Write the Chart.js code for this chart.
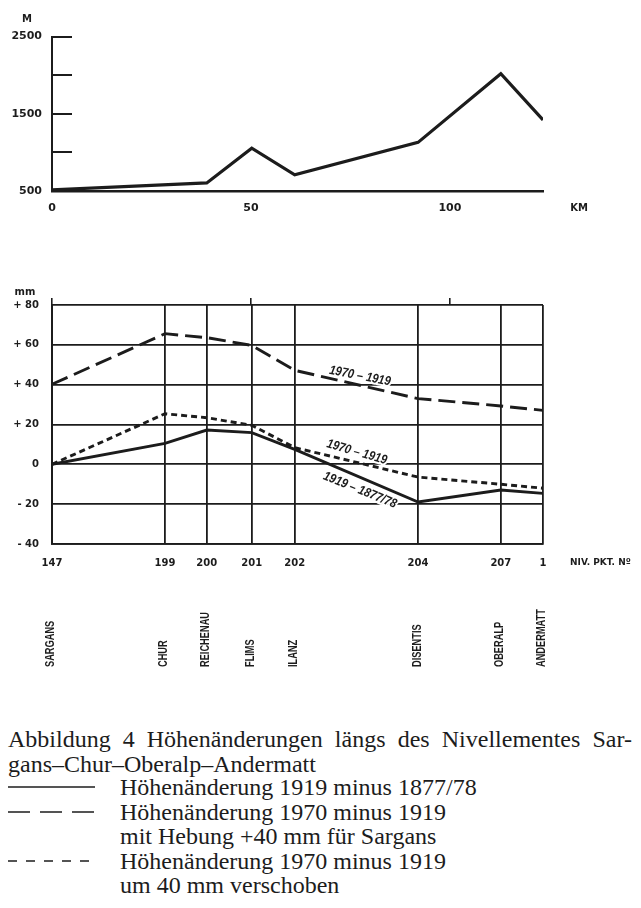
<!DOCTYPE html>
<html lang="de">
<head>
<meta charset="utf-8">
<script src="https://cdn.jsdelivr.net/npm/chart.js@4.4.1/dist/chart.umd.min.js"></script>
<style>
  html, body { margin: 0; padding: 0; background: #fff; }
  body { width: 641px; height: 908px; position: relative; overflow: hidden; }
  canvas { position: absolute; left: 0; }
  #profile { top: 0; }
  #changes { top: 280px; }
  .caption, .legend {
    position: absolute; left: 8px; width: 624px;
    font-family: "Liberation Serif", "Times New Roman", serif;
    font-size: 24px; line-height: 24.5px; color: #1c1c1c;
  }
  .caption { top: 727px; }
  .caption .just { text-align: justify; text-align-last: justify; }
  .legend { top: 775px; }
  .legend .row { position: relative; padding-left: 112px; height: 24.5px; white-space: nowrap; }
  .legend svg { position: absolute; left: 0; top: 0; }
</style>
</head>
<body>
<canvas id="profile" width="641" height="230"></canvas>
<canvas id="changes" width="641" height="400"></canvas>

<div class="caption">
  <div class="just">Abbildung 4&ensp;Höhenänderungen längs des Nivellementes Sar-</div>
  <div>gans–Chur–Oberalp–Andermatt</div>
</div>

<div class="legend">
  <div class="row"><svg width="90" height="24"><line x1="0" y1="12" x2="87" y2="12" stroke="#1c1c1c" stroke-width="1.6"/></svg>Höhenänderung 1919 minus 1877/78</div>
  <div class="row"><svg width="90" height="24"><line x1="0" y1="12" x2="87" y2="12" stroke="#1c1c1c" stroke-width="1.6" stroke-dasharray="22 10"/></svg>Höhenänderung 1970 minus 1919</div>
  <div class="row">mit Hebung +40 mm für Sargans</div>
  <div class="row"><svg width="90" height="24"><line x1="0" y1="12" x2="87" y2="12" stroke="#1c1c1c" stroke-width="1.6" stroke-dasharray="9 9"/></svg>Höhenänderung 1970 minus 1919</div>
  <div class="row">um 40 mm verschoben</div>
</div>

<script>
// height profile along the levelling line
const profileKm = [0, 38.9, 50.2, 61, 92, 112.8, 123.4];
const profileHeight = [515, 605, 1055, 710, 1130, 2020, 1420];

// levelling points (Niv. Pkt.) and their position along the line
const stationNumbers = ['147', '199', '200', '201', '202', '204', '207', '1'];
const stationNames = ['SARGANS', 'CHUR', 'REICHENAU', 'FLIMS', 'ILANZ', 'DISENTIS', 'OBERALP', 'ANDERMATT'];
const stationKm = [0, 28.4, 38.9, 50.2, 61, 92, 112.8, 123.4];

// height changes in mm
const change1919 = [0, 10.5, 17.2, 15.9, 7.5, -18.9, -12.9, -14.6];
const change1970Raised = [40.2, 65.6, 63.6, 59.7, 47.2, 33, 29.3, 27.1];
const change1970Shifted = [0, 25.4, 23.4, 19.6, 8.4, -6.4, -10, -12];

const ink = '#1c1c1c';
const tickFont = { family: '"DejaVu Sans", sans-serif', weight: 'bold', size: 11 };
const smallFont = { family: '"DejaVu Sans", sans-serif', weight: 'bold', size: 10 };

// ---- top chart: profile ----
new Chart(document.getElementById('profile'), {
  type: 'line',
  data: {
    datasets: [{
      data: profileKm.map((km, i) => ({ x: km, y: profileHeight[i] })),
      borderColor: ink,
      borderWidth: 3.2,
      pointRadius: 0,
      tension: 0,
    }],
  },
  options: {
    responsive: false,
    animation: false,
    layout: { padding: { top: 33, right: 98, left: 0, bottom: 0 } },
    plugins: { legend: { display: false }, tooltip: { enabled: false } },
    scales: {
      x: {
        type: 'linear', min: 0, max: 123.4,
        afterBuildTicks: (s) => { s.ticks = [0, 50, 100].map(v => ({ value: v })); },
        grid: { display: false, drawTicks: false },
        border: { display: true, color: ink, width: 2.5 },
        ticks: { color: ink, font: tickFont, padding: 11, maxRotation: 0 },
        afterFit: (s) => { s.height = 39; },
      },
      y: {
        min: 500, max: 2500,
        ticks: {
          stepSize: 500, color: ink, font: tickFont, padding: 30,
          callback: (v) => ((v - 500) % 1000 === 0 ? String(v) : ''),
        },
        grid: { drawOnChartArea: false, drawTicks: true, tickLength: -20, color: ink, lineWidth: 2 },
        border: { display: true, color: ink, width: 2 },
        afterFit: (s) => { s.width = 52; },
      },
    },
  },
  plugins: [{
    id: 'units',
    afterDraw(chart) {
      const { ctx, chartArea } = chart;
      ctx.save();
      ctx.fillStyle = ink;
      ctx.font = 'bold 10px "DejaVu Sans", sans-serif';
      ctx.textAlign = 'center';
      ctx.textBaseline = 'middle';
      ctx.fillText('M', chartArea.left - 25, chartArea.top - 17);
      ctx.fillText('KM', chartArea.right + 36, chartArea.bottom + 17);
      ctx.restore();
    },
  }],
});

// ---- lower chart: height changes ----
const lineNotes = [
  { text: '1970 – 1919', km: 77.4, mm: 44.3, angle: 11 },
  { text: '1970 – 1919', km: 76.6, mm: 6.1, angle: 16 },
  { text: '1919 – 1877/78', km: 77.4, mm: -13, angle: 22 },
];

const series = (values) => values.map((v, i) => ({ x: stationKm[i], y: v }));

new Chart(document.getElementById('changes'), {
  type: 'line',
  data: {
    datasets: [
      { label: 'Höhenänderung 1919 minus 1877/78', data: series(change1919), borderDash: [] },
      { label: 'Höhenänderung 1970 minus 1919 mit Hebung +40 mm für Sargans', data: series(change1970Raised), borderDash: [17, 7] },
      { label: 'Höhenänderung 1970 minus 1919 um 40 mm verschoben', data: series(change1970Shifted), borderDash: [6, 4] },
    ].map(d => ({ ...d, borderColor: ink, borderWidth: 2.9, pointRadius: 0, tension: 0 })),
  },
  options: {
    responsive: false,
    animation: false,
    layout: { padding: { top: 0, right: 98, left: 0, bottom: 0 } },
    plugins: { legend: { display: false }, tooltip: { enabled: false } },
    scales: {
      x: {
        type: 'linear', min: 0, max: 123.4,
        afterBuildTicks: (s) => { s.ticks = stationKm.map(v => ({ value: v })); },
        ticks: { color: ink, font: smallFont, padding: 13, maxRotation: 0, autoSkip: false,
          callback: (v, i) => stationNumbers[i] },
        grid: { drawOnChartArea: true, drawTicks: false, color: ink, lineWidth: 1.8 },
        border: { display: true, color: ink, width: 1.8 },
        afterFit: (s) => { s.height = 136; },
      },
      xTop: {
        type: 'linear', position: 'top', min: 0, max: 123.4,
        afterBuildTicks: (s) => { s.ticks = [0, 50, 100].map(v => ({ value: v })); },
        ticks: { display: false },
        grid: { drawOnChartArea: false, drawTicks: true, tickLength: 7, color: ink, lineWidth: 1.6 },
        border: { display: false },
        afterFit: (s) => { s.height = 25; },
      },
      y: {
        min: -40, max: 80,
        ticks: {
          stepSize: 20, color: ink, font: smallFont, padding: 13,
          callback: (v) => (v > 0 ? '+ ' + v : v < 0 ? '- ' + Math.abs(v) : '0'),
        },
        grid: { drawOnChartArea: true, drawTicks: false, color: ink, lineWidth: 1.8 },
        border: { display: true, color: ink, width: 2 },
        afterFit: (s) => { s.width = 52; },
      },
    },
  },
  plugins: [{
    id: 'notes',
    afterDatasetsDraw(chart) {
      const { ctx, scales } = chart;
      ctx.save();
      ctx.font = 'italic bold 13px "Liberation Sans", sans-serif';
      ctx.textAlign = 'center';
      ctx.textBaseline = 'middle';
      lineNotes.forEach(n => {
        ctx.save();
        ctx.translate(scales.x.getPixelForValue(n.km), scales.y.getPixelForValue(n.mm));
        ctx.rotate(n.angle * Math.PI / 180);
        ctx.scale(0.86, 1); // condensed lettering
        ctx.lineWidth = 4;
        ctx.strokeStyle = '#fff';
        ctx.strokeText(n.text, 0, 0);
        ctx.fillStyle = ink;
        ctx.fillText(n.text, 0, 0);
        ctx.restore();
      });
      ctx.restore();
    },
    afterDraw(chart) {
      const { ctx, chartArea, scales } = chart;
      ctx.save();
      ctx.fillStyle = ink;
      ctx.textBaseline = 'middle';
      ctx.font = 'bold 10px "DejaVu Sans", sans-serif';
      ctx.textAlign = 'center';
      ctx.fillText('mm', chartArea.left - 27, chartArea.top - 13);
      ctx.textAlign = 'left';
      ctx.font = 'bold 9px "DejaVu Sans", sans-serif';
      ctx.fillText('NIV. PKT. Nº', chartArea.right + 27, chartArea.bottom + 19);
      // station names, rotated, reading upwards
      ctx.font = 'bold 12.5px "Liberation Sans", sans-serif';
      stationNames.forEach((name, i) => {
        ctx.save();
        ctx.translate(scales.x.getPixelForValue(stationKm[i]) - 1, chartArea.bottom + 123);
        ctx.rotate(-Math.PI / 2);
        ctx.scale(0.74, 1); // condensed lettering
        ctx.fillText(name, 0, 0);
        ctx.restore();
      });
      ctx.restore();
    },
  }],
});
</script>
</body>
</html>
